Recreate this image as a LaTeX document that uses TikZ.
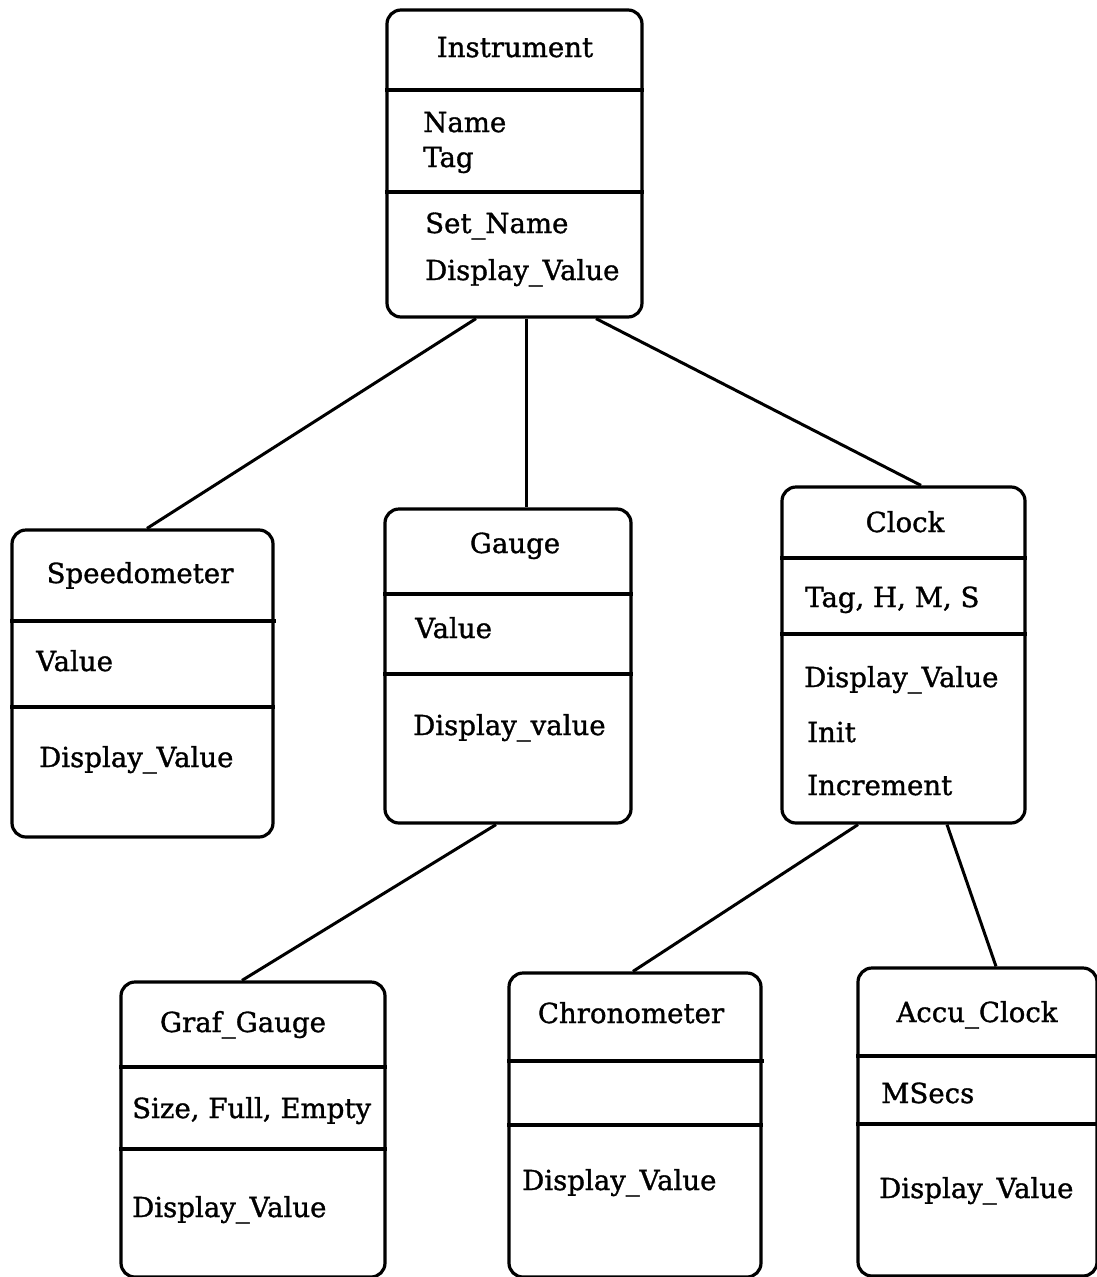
\documentclass[tikz,border=0pt]{standalone}
\usepackage{fontspec}
\setmainfont{DejaVu Serif}
\newfontfamily\boxfont{DejaVu Serif}[FakeBold=1.2]
\usetikzlibrary{fit}

\begin{document}
\begin{tikzpicture}[x=1pt, y=-1pt,
    classbox/.style={draw, line width=3.2pt, rounded corners=14pt, inner sep=0pt},
    sep/.style={line width=3.2pt},
    link/.style={line width=3pt},
    title/.style={anchor=base, inner sep=0pt, font=\boxfont\fontsize{27.6}{33}\selectfont},
    entry/.style={anchor=base west, inner sep=0pt, font=\boxfont\fontsize{27.6}{33}\selectfont}]
    \useasboundingbox (0,0) rectangle (1096,1277);

    % Instrument
    \node[classbox, fit={(387,10) (642,317)}] (instr) {};
    \foreach \y in {90,192} \draw[sep] (instr.west |- 0,\y) -- (instr.east |- 0,\y);
    \node[title] (instrT) at (515,57) {Instrument};
    \node[entry] (instrA) at (423,132) {Name};
    \node[entry] (instrB) at (423,167) {Tag};
    \node[entry] (instrC) at (425,233) {Set\_Name};
    \node[entry] (instrD) at (425,280) {Display\_Value};

    % Speedometer
    \node[classbox, fit={(12,530) (273,837)}] (speedo) {};
    \draw[sep] (speedo.west |- 0,621) -- (276,621);
    \draw[sep] (speedo.west |- 0,707) -- (speedo.east |- 0,707);
    \node[title] (speedoT) at (140,583) {Speedometer};
    \node[entry] (speedoA) at (36,671) {Value};
    \node[entry] (speedoB) at (39,767) {Display\_Value};

    % Gauge
    \node[classbox, fit={(385,509) (631,823)}] (gauge) {};
    \foreach \y in {594,674} \draw[sep] (gauge.west |- 0,\y) -- (gauge.east |- 0,\y);
    \node[title] (gaugeT) at (515,553) {Gauge};
    \node[entry] (gaugeA) at (415,638) {Value};
    \node[entry] (gaugeB) at (413,735) {Display\_value};

    % Clock
    \node[classbox, fit={(782,487) (1025,823)}] (clock) {};
    \foreach \y in {558,634} \draw[sep] (clock.west |- 0,\y) -- (clock.east |- 0,\y);
    \node[title] (clockT) at (905,532) {Clock};
    \node[entry] (clockA) at (805,607) {Tag, H, M, S};
    \node[entry] (clockB) at (804,687) {Display\_Value};
    \node[entry] (clockC) at (807,742) {Init};
    \node[entry] (clockD) at (807,795) {Increment};

    % Graf_Gauge
    \node[classbox, fit={(121,982) (385,1277)}] (graf) {};
    \foreach \y in {1067,1149} \draw[sep] (graf.west |- 0,\y) -- (graf.east |- 0,\y);
    \node[title] (grafT) at (243,1032) {Graf\_Gauge};
    \node[entry] (grafA) at (132,1118) {Size, Full, Empty};
    \node[entry] (grafB) at (132,1217) {Display\_Value};

    % Chronometer
    \node[classbox, fit={(509,973) (761,1277)}] (chrono) {};
    \draw[sep] (chrono.west |- 0,1061) -- (764,1061);
    \draw[sep] (chrono.west |- 0,1125) -- (chrono.east |- 0,1125);
    \node[title] (chronoT) at (631,1023) {Chronometer};
    \node[entry] (chronoA) at (522,1190) {Display\_Value};

    % Accu_Clock
    \node[classbox, fit={(858,968) (1097,1276)}] (accu) {};
    \foreach \y in {1056,1124} \draw[sep] (accu.west |- 0,\y) -- (accu.east |- 0,\y);
    \node[title] (accuT) at (977,1022) {Accu\_Clock};
    \node[entry] (accuA) at (881,1103) {MSecs};
    \node[entry] (accuB) at (879,1198) {Display\_Value};

    % Inheritance lines
    \draw[link] (instr.south -| 476,0) -- (speedo.north -| 147,0);
    \draw[link] (instr.south -| 526,0) -- (gauge.north -| 526,0);
    \draw[link] (instr.south -| 596,0) -- (clock.north -| 921,0);
    \draw[link] (gauge.south -| 496,0) -- (graf.north -| 242,0);
    \draw[link] (clock.south -| 858,0) -- (chrono.north -| 633,0);
    \draw[link] (clock.south -| 947,0) -- (accu.north -| 996,0);

\end{tikzpicture}
\end{document}
